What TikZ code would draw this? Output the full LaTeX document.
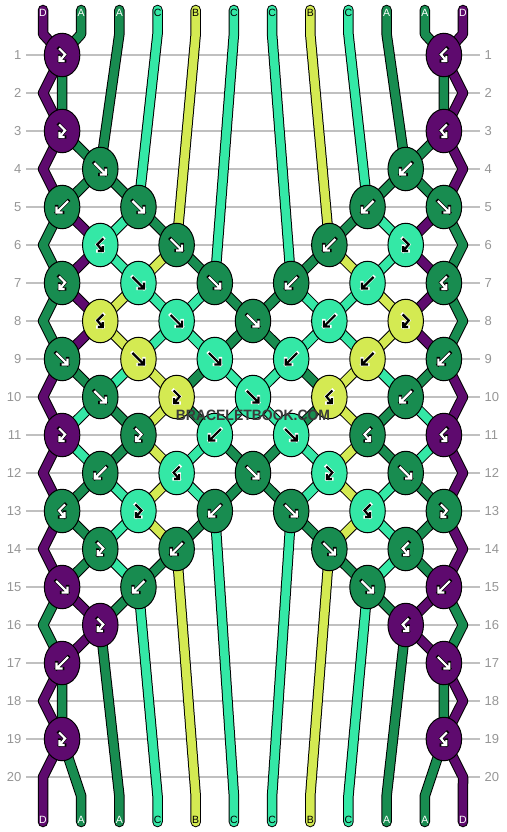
\documentclass[tikz,border=0pt]{standalone}
\usepackage{fontspec}
\setmainfont{Liberation Sans}
\usetikzlibrary{shapes.geometric}
\definecolor{colD}{RGB}{94,10,110}
\definecolor{colA}{RGB}{24,140,80}
\definecolor{colC}{RGB}{52,232,166}
\definecolor{colB}{RGB}{212,234,82}
\definecolor{gridc}{RGB}{192,192,192}
\definecolor{numc}{RGB}{150,150,150}
\definecolor{wmc}{RGB}{58,58,58}
\colorlet{fgD}{white}\colorlet{bgD}{black}
\colorlet{fgA}{white}\colorlet{bgA}{black}
\colorlet{fgC}{black}\colorlet{bgC}{white}
\colorlet{fgB}{black}\colorlet{bgB}{white}
\def\pathF{(-6,-6) -- (5.5,5.5) (5.5,-0.5) -- (5.5,5.5) -- (-0.5,5.5)}
\def\pathB{(6,-6) -- (-5.5,5.5) (-5.5,-0.5) -- (-5.5,5.5) -- (0.5,5.5)}
\def\pathFB{(-3,-6.5) -- (3,-0.5) -- (-2.5,6) (-2.5,1) -- (-2.5,6) -- (2.5,6)}
\def\pathBF{(3,-6.5) -- (-3,-0.5) -- (2.5,6) (2.5,1) -- (2.5,6) -- (-2.5,6)}
\newcommand\strand[2]{%
  \draw[line width=10.5pt, black, line cap=round, line join=round] #2;
  \draw[line width=8.5pt, col#1, line cap=round, line join=round] #2;}
\def\knotlist{1/1/D/FB, 1/11/D/BF,
3/1/D/FB, 3/11/D/BF,
4/2/A/F, 4/10/A/B,
5/1/A/B, 5/3/A/F, 5/9/A/B, 5/11/A/F,
6/2/C/BF, 6/4/A/F, 6/8/A/B, 6/10/C/FB,
7/1/A/FB, 7/3/C/F, 7/5/A/F, 7/7/A/B, 7/9/C/B, 7/11/A/BF,
8/2/B/BF, 8/4/C/F, 8/6/A/F, 8/8/C/B, 8/10/B/FB,
9/1/A/F, 9/3/B/F, 9/5/C/F, 9/7/C/B, 9/9/B/B, 9/11/A/B,
10/2/A/F, 10/4/B/FB, 10/6/C/F, 10/8/B/BF, 10/10/A/B,
11/1/D/FB, 11/3/A/FB, 11/5/C/B, 11/7/C/F, 11/9/A/BF, 11/11/D/BF,
12/2/A/B, 12/4/C/BF, 12/6/A/F, 12/8/C/FB, 12/10/A/F,
13/1/A/BF, 13/3/C/FB, 13/5/A/B, 13/7/A/F, 13/9/C/BF, 13/11/A/FB,
14/2/A/FB, 14/4/A/B, 14/8/A/F, 14/10/A/BF,
15/1/D/F, 15/3/A/B, 15/9/A/F, 15/11/D/B,
16/2/D/FB, 16/10/D/BF,
17/1/D/B, 17/11/D/F,
19/1/D/FB, 19/11/D/BF}
\tikzset{
  knot/.style={ellipse, draw=black, line width=1pt, minimum width=35.5pt, minimum height=43.5pt, inner sep=0pt},
  num/.style={text=numc, font=\fontsize{13}{15}\selectfont, inner sep=0pt},
  lab/.style={font=\fontsize{10.5}{12}\selectfont, inner sep=0pt},
  rowline/.style={draw=gridc, line width=1.1pt}
}
\begin{document}
\begin{tikzpicture}[x=1pt, y=-1pt]
\useasboundingbox[fill=white] (0,0) rectangle (506,832);
% row lines and numbers
\foreach \rr in {1,...,20} {
  \pgfmathsetmacro\yy{55+(\rr-1)*38}
  \coordinate (gl\rr) at (26,\yy);
  \coordinate (gr\rr) at (480,\yy);
  \draw[rowline] (gl\rr) -- (gr\rr);
  \node[num, anchor=east] (nl\rr) at (21.5,\yy) {\rr};
  \node[num, anchor=west] (nr\rr) at (484.5,\yy) {\rr};
}
% string end coordinates
\foreach \i in {1,...,12} {
  \pgfmathsetmacro\xx{43+(\i-1)*38.18}
  \coordinate (U\i) at (\xx,10);
  \coordinate (T\i) at (\xx,34);
  \coordinate (B\i) at (\xx,796);
  \coordinate (V\i) at (\xx,822);
}
\foreach \rr in {2,4,...,20} {
  \pgfmathsetmacro\yy{55+(\rr-1)*38}
  \coordinate (eL\rr) at (43,\yy);
  \coordinate (eR\rr) at (463,\yy);
}
\foreach \rr/\pp/\cl/\ty in \knotlist {
  \coordinate (k\rr-\pp) at ({62.09+(\pp-1)*38.18},{55+(\rr-1)*38});
}
% strings
\strand{D}{(U1)--(T1)--(k1-1)--(eL2)--(k3-1)--(eL4)--(k5-1)--(k6-2)--(k7-1)--(k8-2)--(k9-1)--(eL10)--(k11-1)--(eL12)--(k13-1)--(eL14)--(k15-1)--(k16-2)--(k17-1)--(eL18)--(k19-1)--(eL20)--(B1)--(V1)}
\strand{A}{(U2)--(T2)--(k1-1)--(k3-1)--(k4-2)--(k5-3)--(k6-4)--(k7-5)--(k8-6)--(k9-7)--(k10-8)--(k11-7)--(k12-6)--(k13-5)--(k14-4)--(k15-3)--(k16-2)--(B3)--(V3)}
\strand{A}{(U3)--(T3)--(k4-2)--(k5-1)--(eL6)--(k7-1)--(eL8)--(k9-1)--(k10-2)--(k11-3)--(k12-2)--(k13-1)--(k14-2)--(k15-1)--(eL16)--(k17-1)--(k19-1)--(B2)--(V2)}
\strand{C}{(U4)--(T4)--(k5-3)--(k6-2)--(k7-3)--(k8-4)--(k9-5)--(k10-6)--(k11-7)--(k12-8)--(k13-7)--(B7)--(V7)}
\strand{B}{(U5)--(T5)--(k6-4)--(k7-3)--(k8-2)--(k9-3)--(k10-4)--(k11-3)--(k12-4)--(k13-3)--(k14-4)--(B5)--(V5)}
\strand{C}{(U6)--(T6)--(k7-5)--(k8-4)--(k9-3)--(k10-2)--(k11-1)--(k12-2)--(k13-3)--(k14-2)--(k15-3)--(B4)--(V4)}
\strand{C}{(U7)--(T7)--(k7-7)--(k8-8)--(k9-9)--(k10-10)--(k11-11)--(k12-10)--(k13-9)--(k14-10)--(k15-9)--(B9)--(V9)}
\strand{B}{(U8)--(T8)--(k6-8)--(k7-9)--(k8-10)--(k9-9)--(k10-8)--(k11-9)--(k12-8)--(k13-9)--(k14-8)--(B8)--(V8)}
\strand{C}{(U9)--(T9)--(k5-9)--(k6-10)--(k7-9)--(k8-8)--(k9-7)--(k10-6)--(k11-5)--(k12-4)--(k13-5)--(B6)--(V6)}
\strand{A}{(U10)--(T10)--(k4-10)--(k5-11)--(eR6)--(k7-11)--(eR8)--(k9-11)--(k10-10)--(k11-9)--(k12-10)--(k13-11)--(k14-10)--(k15-11)--(eR16)--(k17-11)--(k19-11)--(B11)--(V11)}
\strand{A}{(U11)--(T11)--(k1-11)--(k3-11)--(k4-10)--(k5-9)--(k6-8)--(k7-7)--(k8-6)--(k9-5)--(k10-4)--(k11-5)--(k12-6)--(k13-7)--(k14-8)--(k15-9)--(k16-10)--(B10)--(V10)}
\strand{D}{(U12)--(T12)--(k1-11)--(eR2)--(k3-11)--(eR4)--(k5-11)--(k6-10)--(k7-11)--(k8-10)--(k9-11)--(eR10)--(k11-11)--(eR12)--(k13-11)--(eR14)--(k15-11)--(k16-10)--(k17-11)--(eR18)--(k19-11)--(eR20)--(B12)--(V12)}
% knots
\foreach \rr/\pp/\cl/\ty in \knotlist {
  \node[knot, fill=col\cl] (n\rr-\pp) at (k\rr-\pp) {};
  \expandafter\let\expandafter\curpath\csname path\ty\endcsname
  \draw[shift={(k\rr-\pp)}, draw=bg\cl, line width=3.4pt, line cap=rect] \curpath;
  \draw[shift={(k\rr-\pp)}, draw=fg\cl, line width=2.2pt] \curpath;
}
% string labels
\foreach \i/\l in {1/D, 2/A, 3/A, 4/C, 5/B, 6/C, 7/C, 8/B, 9/C, 10/A, 11/A, 12/D} {
  \pgfmathsetmacro\xx{43+(\i-1)*38.18}
  \node[lab, text=fg\l] (lt\i) at (\xx,12.5) {\l};
  \node[lab, text=fg\l] (lb\i) at (\xx,819.5) {\l};
}
% watermark
\node[text=wmc, font=\fontsize{15}{17}\selectfont\bfseries, inner sep=0pt, xscale=0.93] (wm) at (253,415.5) {BRACELETBOOK.COM};
\end{tikzpicture}
\end{document}
